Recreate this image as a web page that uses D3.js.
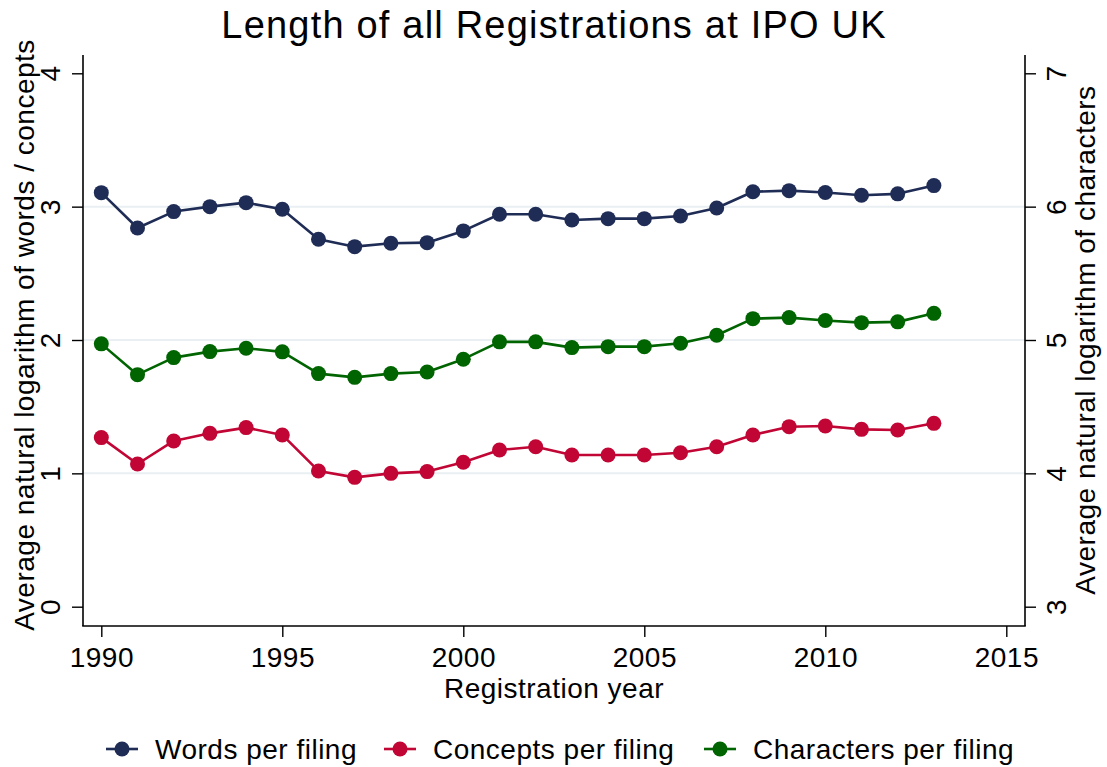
<!DOCTYPE html>
<html><head><meta charset="utf-8">
<script src="https://cdn.jsdelivr.net/npm/d3@7"></script>
<style>
html,body{margin:0;padding:0;background:#fff;}
svg{display:block;font-family:"Liberation Sans",Arial,Helvetica,sans-serif;}
</style></head>
<body>
<svg id="chart" width="1107" height="767"></svg>
<script>
const years = [1990,1991,1992,1993,1994,1995,1996,1997,1998,1999,2000,2001,2002,2003,2004,2005,2006,2007,2008,2009,2010,2011,2012,2013];
const wordsPerFiling = [3.105,2.84,2.963,3.00,3.03,2.98,2.756,2.70,2.726,2.73,2.818,2.943,2.943,2.90,2.91,2.91,2.93,2.99,3.112,3.12,3.106,3.086,3.096,3.158];
const conceptsPerFiling = [1.268,1.07,1.243,1.30,1.343,1.288,1.018,0.97,1.00,1.013,1.083,1.175,1.20,1.138,1.138,1.138,1.155,1.20,1.288,1.35,1.355,1.33,1.325,1.375];
const charactersPerFiling = [4.971,4.74,4.868,4.913,4.938,4.911,4.748,4.72,4.748,4.76,4.856,4.986,4.986,4.943,4.95,4.95,4.976,5.036,5.16,5.168,5.146,5.13,5.136,5.20];
const xTicks = [1990,1995,2000,2005,2010,2015];
const yLeftTicks = [0,1,2,3,4];
const yRightTicks = [3,4,5,6,7];
const gridValues = [1,2,3];
const seriesNames = ["Words per filing","Concepts per filing","Characters per filing"];
const seriesColors = ["#1f2c55","#c10534","#006400"];

(function(){
const svg = d3.select("#chart");
const FS = 28, LS = 0.5;
const x = d3.scaleLinear().domain([1990,2015]).range([101.3,1006.3]);
const yL = d3.scaleLinear().domain([0,4]).range([606.7,73.3]);
const yR = d3.scaleLinear().domain([3,7]).range([606.7,73.3]);
const pLeft = 83, pRight = 1025, pTop = 55, pBottom = 626;

// gridlines
svg.append("g").selectAll("line").data(gridValues).join("line")
  .attr("x1",pLeft).attr("x2",pRight)
  .attr("y1",d=>yL(d)).attr("y2",d=>yL(d))
  .attr("stroke","#e9eff2").attr("stroke-width",2);

// axes lines
const axisColor = "#000";
svg.append("line").attr("x1",pLeft).attr("x2",pLeft).attr("y1",pTop).attr("y2",pBottom).attr("stroke",axisColor).attr("stroke-width",1.6);
svg.append("line").attr("x1",pRight).attr("x2",pRight).attr("y1",pTop).attr("y2",pBottom).attr("stroke",axisColor).attr("stroke-width",1.6);
svg.append("line").attr("x1",pLeft-0.8).attr("x2",pRight+0.8).attr("y1",pBottom).attr("y2",pBottom).attr("stroke",axisColor).attr("stroke-width",1.6);

// x axis
const xAxis = d3.axisBottom(x).tickValues(xTicks).tickFormat(d3.format("d")).tickSize(11);
const gx = svg.append("g").attr("transform",`translate(0,${pBottom})`).call(xAxis);
gx.select(".domain").remove();
gx.selectAll("line").attr("stroke","#000").attr("stroke-width",1.4);
gx.selectAll("text").attr("font-size",FS).attr("fill","#000").attr("font-family","inherit")
  .attr("letter-spacing",LS).attr("dy",null).attr("y",41);

// left y axis
const gyl = svg.append("g").attr("transform",`translate(${pLeft},0)`).call(d3.axisLeft(yL).tickValues(yLeftTicks).tickSize(11).tickFormat(d3.format("d")));
gyl.select(".domain").remove();
gyl.selectAll("line").attr("stroke","#000").attr("stroke-width",1.4);
gyl.selectAll("text").attr("font-size",FS).attr("fill","#000").attr("font-family","inherit")
  .attr("x",null).attr("dy",null).attr("text-anchor","middle")
  .attr("transform","translate(-23,0) rotate(-90)");

// right y axis
const gyr = svg.append("g").attr("transform",`translate(${pRight},0)`).call(d3.axisRight(yR).tickValues(yRightTicks).tickSize(11).tickFormat(d3.format("d")));
gyr.select(".domain").remove();
gyr.selectAll("line").attr("stroke","#000").attr("stroke-width",1.4);
gyr.selectAll("text").attr("font-size",FS).attr("fill","#000").attr("font-family","inherit")
  .attr("x",null).attr("dy",null).attr("text-anchor","middle")
  .attr("transform","translate(41,0) rotate(-90)");

// titles
svg.append("text").attr("x",554).attr("y",38).attr("text-anchor","middle").attr("font-size",38).attr("letter-spacing",1.2).attr("fill","#000").text("Length of all Registrations at IPO UK");
svg.append("text").attr("x",554).attr("y",698).attr("text-anchor","middle").attr("font-size",FS).attr("letter-spacing",LS).attr("fill","#000").text("Registration year");
svg.append("text").attr("transform",`translate(34,335) rotate(-90)`).attr("text-anchor","middle").attr("font-size",FS).attr("letter-spacing",LS).attr("fill","#000").text("Average natural logarithm of words / concepts");
svg.append("text").attr("transform",`translate(1095,340) rotate(-90)`).attr("text-anchor","middle").attr("font-size",FS).attr("letter-spacing",LS).attr("fill","#000").text("Average natural logarithm of characters");

// series
const series = [
  {name:seriesNames[0], color:seriesColors[0], vals:wordsPerFiling, y:yL},
  {name:seriesNames[1], color:seriesColors[1], vals:conceptsPerFiling, y:yL},
  {name:seriesNames[2], color:seriesColors[2], vals:charactersPerFiling, y:yR}
];
series.forEach(s=>{
  const pts = years.map((yr,i)=>[yr,s.vals[i]]);
  const line = d3.line().x(d=>x(d[0])).y(d=>s.y(d[1]));
  const g = svg.append("g");
  g.append("path").attr("d",line(pts)).attr("fill","none").attr("stroke",s.color).attr("stroke-width",2.6).attr("stroke-linejoin","round");
  g.selectAll("circle").data(pts).join("circle").attr("cx",d=>x(d[0])).attr("cy",d=>s.y(d[1])).attr("r",7.5).attr("fill",s.color);
});

// legend
const legendX = [106, 384, 704];
const lg = svg.append("g");
series.forEach((s,i)=>{
  const g = lg.append("g").attr("transform",`translate(${legendX[i]},749)`);
  g.append("line").attr("x1",0).attr("x2",32).attr("y1",0).attr("y2",0).attr("stroke",s.color).attr("stroke-width",2.6);
  g.append("circle").attr("cx",16).attr("cy",0).attr("r",7.5).attr("fill",s.color);
  g.append("text").attr("x",49).attr("y",10).attr("font-size",FS).attr("letter-spacing",LS).attr("fill","#000").text(s.name);
});
})();
</script>
</body></html>
